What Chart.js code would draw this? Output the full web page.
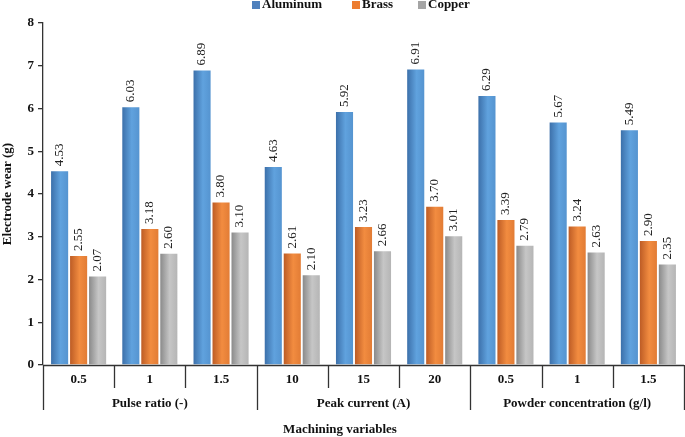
<!DOCTYPE html>
<html><head><meta charset="utf-8">
<script src="https://cdn.jsdelivr.net/npm/chart.js@4"></script>
<style>html,body{margin:0;padding:0;background:#fff}#wrap{width:685px;height:437px;position:relative}</style>
</head><body><div id="wrap"><canvas id="c"></canvas></div>
<script>
const categories = ["0.5","1","1.5","10","15","20","0.5","1","1.5"];
const groups = ["Pulse ratio (-)","Peak current (A)","Powder concentration (g/l)"];
const groupSize = [3,3,3];
const aluminum = [4.53,6.03,6.89,4.63,5.92,6.91,6.29,5.67,5.49];
const brass = [2.55,3.18,3.80,2.61,3.23,3.70,3.39,3.24,2.90];
const copper = [2.07,2.60,3.10,2.10,2.66,3.01,2.79,2.63,2.35];
const seriesNames = ["Aluminum","Brass","Copper"];
const yTicks = [0,1,2,3,4,5,6,7,8];

const serif = "'Liberation Serif','Times New Roman',serif";
const palettes = [
  ["#3C70AA","#60A2DE","#5594D0","#4F81BD"],
  ["#BD5C25","#F28C40","#E27C35","#ED7D31"],
  ["#8A8A8A","#C6C6C6","#B5B5B5","#A5A5A5"]
];

const custom = {
  id:'custom',
  beforeDatasetsDraw(chart){
    const c = chart.ctx;
    chart.data.datasets.forEach((ds,di)=>{
      chart.getDatasetMeta(di).data.forEach((bar)=>{
        const w = bar.width;
        const g = c.createLinearGradient(bar.x - w/2, 0, bar.x + w/2, 0);
        g.addColorStop(0, palettes[di][0]);
        g.addColorStop(0.55, palettes[di][1]);
        g.addColorStop(1, palettes[di][2]);
        bar.options = Object.assign({}, bar.options, {backgroundColor: g});
      });
    });
  },
  afterDatasetsDraw(chart){
    const c = chart.ctx; const ca = chart.chartArea;
    // data labels
    c.save();
    c.fillStyle = '#222';
    c.font = "13px " + serif;
    c.textAlign = 'left'; c.textBaseline = 'middle';
    chart.data.datasets.forEach((ds,di)=>{
      chart.getDatasetMeta(di).data.forEach((bar,i)=>{
        c.save();
        c.translate(bar.x, bar.y - 5);
        c.rotate(-Math.PI/2);
        c.fillText(ds.data[i].toFixed(2), 0, 0);
        c.restore();
      });
    });
    c.restore();
    // x axis
    c.save();
    c.strokeStyle = '#333'; c.lineWidth = 1.3;
    c.beginPath(); c.moveTo(ca.left, ca.bottom+0.5); c.lineTo(ca.right, ca.bottom+0.5); c.stroke();
    const n = categories.length;
    const cw = (ca.right - ca.left)/n;
    let idx = 0; const groupBounds=[0];
    groupSize.forEach(s=>{ idx+=s; groupBounds.push(idx); });
    for(let k=0;k<=n;k++){
      const xx = Math.round(ca.left + k*cw) + 0.5;
      const isGroup = groupBounds.includes(k);
      c.beginPath(); c.moveTo(xx, ca.bottom); c.lineTo(xx, ca.bottom + (isGroup?45:23)); c.stroke();
    }
    c.fillStyle = '#111';
    c.font = "bold 13px " + serif;
    c.textAlign='center'; c.textBaseline='middle';
    categories.forEach((lab,i)=>{ c.fillText(lab, ca.left + (i+0.5)*cw, ca.bottom + 15); });
    groups.forEach((g,gi)=>{
      const mid = (groupBounds[gi]+groupBounds[gi+1])/2;
      c.fillText(g, ca.left + mid*cw, ca.bottom + 39);
    });
    c.fillText("Machining variables", 340, 430);
    // legend
    const items = [[252,"Aluminum"],[352,"Brass"],[418,"Copper"]];
    items.forEach((it,i)=>{
      c.fillStyle = palettes[i][3];
      c.fillRect(it[0], 1, 8, 8);
      c.fillStyle = '#111'; c.textAlign='left';
      c.fillText(it[1], it[0]+10, 5);
    });
    c.restore();
  }
};

new Chart(document.getElementById('c'), {
  type:'bar',
  data:{
    labels: categories,
    datasets:[
      {label:seriesNames[0], data:aluminum, backgroundColor:()=>palettes[0][3]},
      {label:seriesNames[1], data:brass, backgroundColor:()=>palettes[1][3]},
      {label:seriesNames[2], data:copper, backgroundColor:()=>palettes[2][3]}
    ]
  },
  options:{
    responsive:true, maintainAspectRatio:false, animation:false,
    layout:{padding:{left:0, top:23, right:1, bottom:72}},
    plugins:{legend:{display:false}, tooltip:{enabled:false}},
    scales:{
      x:{display:false, categoryPercentage:0.675, barPercentage:1},
      y:{
        min:0, max:8,
        afterFit(s){ s.width = 43; },
        afterBuildTicks(s){ s.ticks = yTicks.map(v=>({value:v})); },
        ticks:{font:{family:serif, size:13, weight:'bold'}, color:'#111', padding:4},
        grid:{drawOnChartArea:false, drawTicks:true, tickLength:5, color:'#333', lineWidth:1.3},
        border:{display:true, color:'#333', width:1.3},
        title:{display:true, text:'Electrode wear (g)', font:{family:serif, size:13, weight:'bold'}, color:'#111', padding:0}
      }
    }
  },
  plugins:[custom]
});
</script></body></html>
